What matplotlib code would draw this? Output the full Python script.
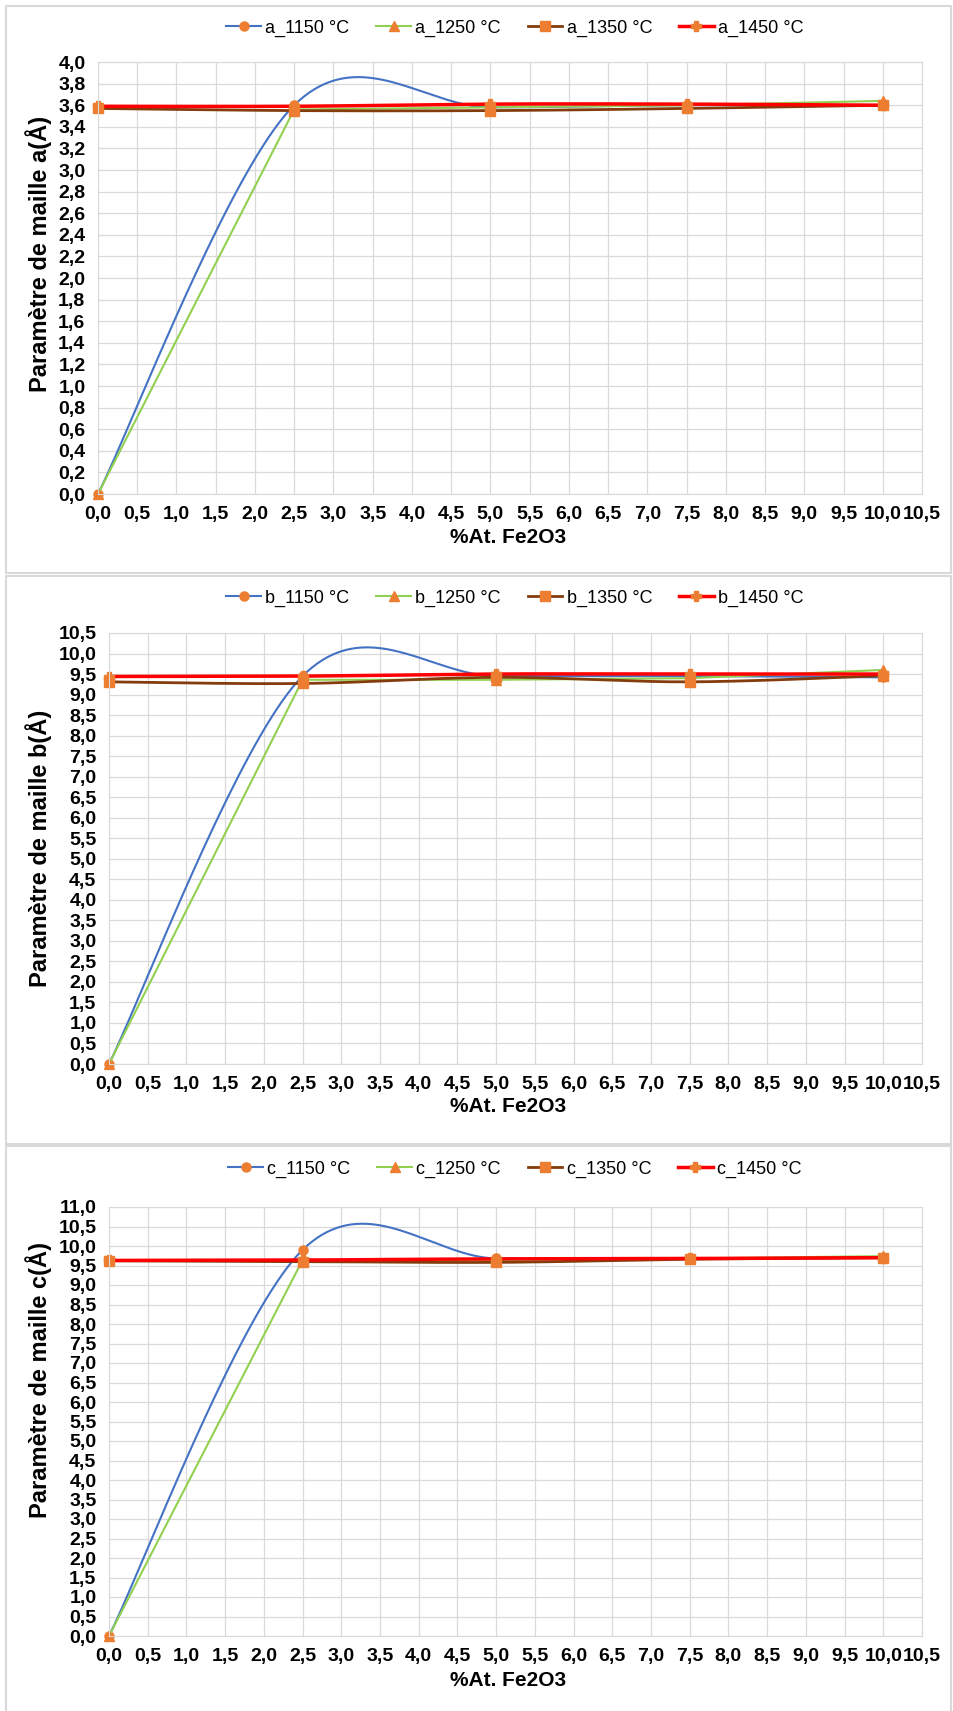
import numpy as np
import matplotlib
matplotlib.use('Agg')
import matplotlib.pyplot as plt
from matplotlib.patches import Rectangle

plt.rcParams['font.family'] = ['Liberation Sans', 'DejaVu Sans']

W, H = 954, 1711

x_pct = [0, 2.5, 5, 7.5, 10]

a_1150 = [0, 3.60, 3.58, 3.60, 3.60]
a_1250 = [0, 3.56, 3.58, 3.60, 3.64]
a_1350 = [3.57, 3.55, 3.55, 3.57, 3.60]
a_1450 = [3.59, 3.59, 3.61, 3.61, 3.60]

b_1150 = [0, 9.45, 9.45, 9.45, 9.42]
b_1250 = [0, 9.36, 9.36, 9.40, 9.60]
b_1350 = [9.31, 9.27, 9.42, 9.31, 9.46]
b_1450 = [9.44, 9.45, 9.50, 9.50, 9.50]

c_1150 = [0, 9.90, 9.68, 9.68, 9.70]
c_1250 = [0, 9.64, 9.64, 9.68, 9.74]
c_1350 = [9.62, 9.60, 9.58, 9.66, 9.70]
c_1450 = [9.63, 9.64, 9.67, 9.68, 9.70]

temps = ['1150 °C', '1250 °C', '1350 °C', '1450 °C']

# colour, marker, line width, smoothed line (Excel style)
styles = [
    ('#4472C4', 'o', 1.5, True),
    ('#92D050', '^', 1.5, False),
    ('#843C0C', 's', 2.0, True),
    ('#FF0000', 'P', 2.5, True),
]
MARKER_COLOR = '#ED7D31'
GRID = '#d9d9d9'


def excel_smooth(xs, ys, n=40):
    p = np.column_stack([xs, ys]).astype(float)
    out = [p[0]]
    t = np.linspace(0, 1, n + 1)[1:, None]
    for i in range(len(p) - 1):
        p0 = p[max(i - 1, 0)]
        p1 = p[i]
        p2 = p[i + 1]
        p3 = p[min(i + 2, len(p) - 1)]
        c1 = p1 + (p2 - p0) / 6
        c2 = p2 - (p3 - p1) / 6
        seg = (1 - t) ** 3 * p1 + 3 * (1 - t) ** 2 * t * c1 + 3 * (1 - t) * t ** 2 * c2 + t ** 3 * p2
        out.extend(seg)
    arr = np.array(out)
    return arr[:, 0], arr[:, 1], [i * n for i in range(len(p))]


def fmt(v):
    return f'{v:.1f}'.replace('.', ',')


# (prefix, series, ymax, ystep, plot box l,t,r,b in px, legend y, frame top/bottom, xlabel top y, ylabel centre y)
panels = [
    ('a', [a_1150, a_1250, a_1350, a_1450], 4.0, 0.2, (98, 62, 922, 494), 28, (6, 573), 528, 254),
    ('b', [b_1150, b_1250, b_1350, b_1450], 10.5, 0.5, (109, 633, 922, 1064), 598, (576, 1144), 1097, 848),
    ('c', [c_1150, c_1250, c_1350, c_1450], 11.0, 0.5, (109, 1207, 922, 1636), 1169, (1146, 1712), 1671, 1380),
]

fig = plt.figure(figsize=(W / 100, H / 100), dpi=100)

for prefix, series, ymax, ystep, box, leg_y, frame, xlab_y, ylab_y in panels:
    l, t, r, b = box
    fig.patches.append(Rectangle((6 / W, 1 - frame[1] / H), (951 - 6) / W, (frame[1] - frame[0]) / H,
                                 transform=fig.transFigure, fill=False, edgecolor=GRID, lw=1.5))
    ax = fig.add_axes([l / W, 1 - b / H, (r - l) / W, (b - t) / H])
    for vals, temp, (col, mk, lw, smooth) in zip(series, temps, styles):
        if smooth:
            xs, ys, idx = excel_smooth(x_pct, vals)
        else:
            xs, ys, idx = x_pct, vals, list(range(len(vals)))
        ax.plot(xs, ys, color=col, lw=lw, marker=mk, markevery=idx, markersize=6.5,
                markerfacecolor=MARKER_COLOR, markeredgecolor=MARKER_COLOR,
                label=f'{prefix}_{temp}', clip_on=False)
    ax.set_xlim(0, 10.5)
    ax.set_ylim(0, ymax)
    xt = np.arange(0, 10.51, 0.5)
    yt = np.arange(0, ymax + 0.001, ystep)
    ax.set_xticks(xt)
    ax.set_xticklabels([fmt(v) for v in xt])
    ax.set_yticks(yt)
    ax.set_yticklabels([fmt(v) for v in yt])
    ax.tick_params(length=0, labelsize=14, pad=9)
    for lab in ax.get_xticklabels() + ax.get_yticklabels():
        lab.set_fontweight('bold')
    ax.grid(True, color=GRID, lw=0.9)
    ax.set_axisbelow(True)
    for sp in ax.spines.values():
        sp.set_color(GRID)
    ax.set_xlabel('%At. Fe2O3', fontsize=15, fontweight='bold')
    ax.xaxis.set_label_coords((508 - l) / (r - l), (b - xlab_y) / (b - t))
    ax.set_ylabel(f'Paramètre de maille {prefix}(Å)', fontsize=17, fontweight='bold')
    ax.yaxis.set_label_coords((52 - l) / (r - l), (b - ylab_y) / (b - t))
    ax.legend(loc='center', bbox_to_anchor=(515 / W, 1 - leg_y / H), bbox_transform=fig.transFigure,
              ncol=4, frameon=False, fontsize=13, handlelength=1.9, columnspacing=1.5,
              handletextpad=0.25)

fig.savefig('out.png', dpi=100, facecolor='white')
